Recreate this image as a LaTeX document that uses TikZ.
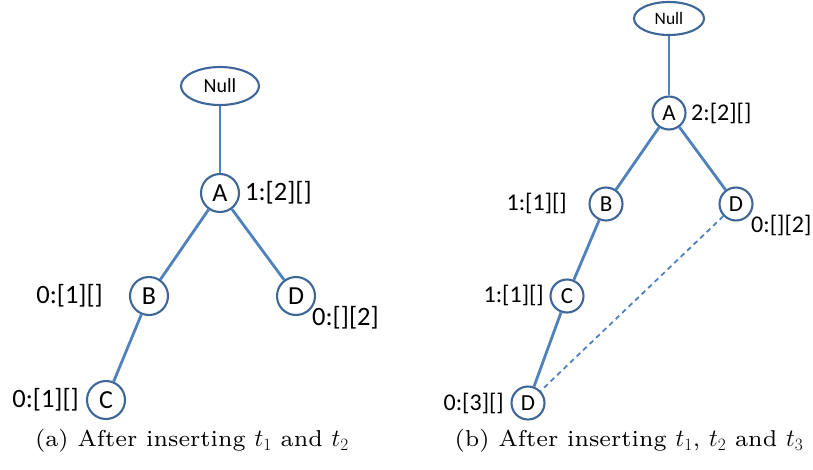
\documentclass[tikz,border=0pt]{standalone}
\usepackage{fontspec}
\newfontfamily\calib{Carlito}
\newfontfamily\capfont[Extension=.otf]{lmroman7-regular}
\usetikzlibrary{shapes.geometric}
\definecolor{edgeblue}{HTML}{4F81BD}
\definecolor{ringblue}{HTML}{3E6699}
\tikzset{
  vtx/.style={circle,draw=ringblue,line width=2.1pt,fill=white,inner sep=0pt},
  bigv/.style={vtx,minimum size=38pt,font=\calib\fontsize{26}{29}\selectfont},
  smallv/.style={vtx,minimum size=33pt,font=\calib\fontsize{23}{26}\selectfont},
  nullbig/.style={ellipse,draw=ringblue,line width=2.1pt,fill=white,inner sep=0pt,minimum width=78pt,minimum height=38pt,font=\calib\fontsize{20}{23}\selectfont},
  nullsmall/.style={ellipse,draw=ringblue,line width=2.1pt,fill=white,inner sep=0pt,minimum width=70pt,minimum height=33pt,font=\calib\fontsize{17.5}{20}\selectfont},
  lblbig/.style={inner sep=0pt,font=\calib\fontsize{26.5}{29}\selectfont},
  lblsmall/.style={inner sep=0pt,font=\calib\fontsize{24}{27}\selectfont},
  conn/.style={draw=edgeblue,line width=2.8pt},
  dconn/.style={draw=edgeblue,line width=1.8pt,dash pattern=on 5pt off 4pt},
  captext/.style={inner sep=0pt,font=\capfont\fontsize{23}{26}\selectfont}
}
\begin{document}
\begin{tikzpicture}[x=1pt,y=-1pt]
\useasboundingbox (0,0) rectangle (813,469);
% left panel
\node[nullbig] (nl) at (220,86) {Null};
\node[bigv] (al) at (220,193) {A};
\node[bigv] (bl) at (149,296) {B};
\node[bigv] (dl) at (296,296) {D};
\node[bigv] (cl) at (106,400) {C};
\draw[conn] (nl) -- (al);
\draw[conn] (al) -- (bl);
\draw[conn] (al) -- (dl);
\draw[conn] (bl) -- (cl);
\node[lblbig,anchor=west] (lal) at (245,193) {1:[2][]};
\node[lblbig,anchor=east] (lbl) at (103,296) {0:[1][]};
\node[lblbig,anchor=west] (ldl) at (312,318) {0:[][2]};
\node[lblbig,anchor=east] (lcl) at (79,400) {0:[1][]};
% right panel
\node[nullsmall] (nr) at (669,18.5) {Null};
\node[smallv] (ar) at (669,113) {A};
\node[smallv] (br) at (606,204) {B};
\node[smallv] (dr) at (736,204) {D};
\node[smallv] (cr) at (567,296) {C};
\node[smallv] (er) at (528,403) {D};
\draw[conn] (nr) -- (ar);
\draw[conn] (ar) -- (br);
\draw[conn] (ar) -- (dr);
\draw[conn] (br) -- (cr);
\draw[conn] (cr) -- (er);
\draw[dconn] (dr) -- (er);
\node[lblsmall,anchor=west] (lar) at (691,113) {2:[2][]};
\node[lblsmall,anchor=east] (lbr) at (567,203) {1:[1][]};
\node[lblsmall,anchor=west] (ldr) at (751,225) {0:[][2]};
\node[lblsmall,anchor=east] (lcr) at (544,295) {1:[1][]};
\node[lblsmall,anchor=east] (ler) at (504,403) {0:[3][]};
% captions
\node[captext] (capa) at (192,441) {(a) After inserting $t_1$ and $t_2$};
\node[captext] (capb) at (629,441) {(b) After inserting $t_1$, $t_2$ and $t_3$};
\end{tikzpicture}
\end{document}
